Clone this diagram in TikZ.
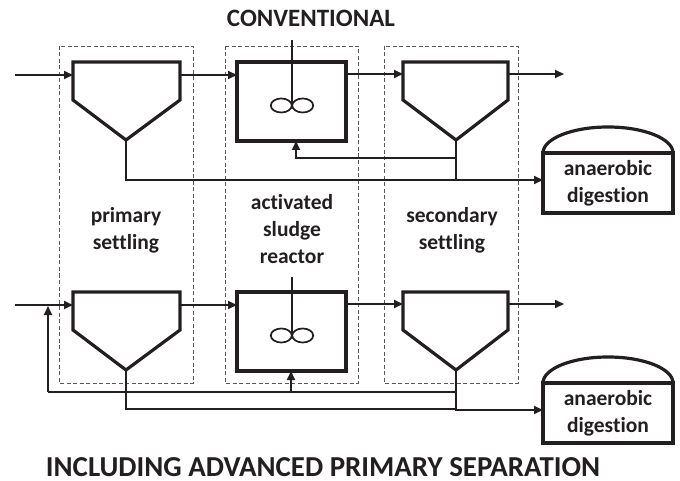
\documentclass[tikz,border=0pt]{standalone}
\usepackage{fontspec}
\setmainfont{Carlito}[Ligatures=NoCommon]
\usetikzlibrary{arrows.meta}
\definecolor{ink}{HTML}{231F20}
\begin{document}
\begin{tikzpicture}[x=1pt,y=-1pt,
  unitline/.style={draw=ink, line width=3.2pt, line join=miter},
  pipe/.style={draw=ink, line width=2pt},
  flow/.style={pipe, -{Triangle[length=9pt,width=8pt]}},
  zone/.style={draw=ink!75, line width=0.9pt, dash pattern=on 4pt off 2.5pt},
  lbl/.style={font=\fontsize{21.5}{27}\selectfont\bfseries, align=center, text=ink, inner sep=0pt},
  title/.style={font=\fontsize{25}{30}\selectfont\bfseries, text=ink, inner sep=0pt},
  impeller/.style={draw=ink, line width=1.7pt},
]
\useasboundingbox (0,0) rectangle (680,481);

% process zones
\draw[zone] (59,46) rectangle (193,383);
\draw[zone] (225,46) rectangle (358,383);
\draw[zone] (384,46) rectangle (518,383);

% titles and labels
\node[title] (tconv) at (311,18.5) {CONVENTIONAL};
\node[title, font=\fontsize{28.9}{34}\selectfont\bfseries] (tadv) at (323,467) {INCLUDING ADVANCED PRIMARY SEPARATION};
\node[lbl] (lprim) at (126,230) {primary\\settling};
\node[lbl] (lasr) at (292,229) {activated\\sludge\\reactor};
\node[lbl] (lsec) at (452,230) {secondary\\settling};

% ---------- units, both rows ----------
\foreach \rw/\dy in {a/0,b/230}{
  % primary settler
  \draw[unitline] (73,62+\dy) -- (180,62+\dy) -- (180,100+\dy) -- (126,140+\dy) -- (73,100+\dy) -- cycle;
  \coordinate (p\rw-in) at (73,75+\dy);
  \coordinate (p\rw-out) at (180,75+\dy);
  \coordinate (p\rw-apex) at (126,140+\dy);
  % reactor
  \draw[unitline] (237,62+\dy) rectangle (346,141+\dy);
  \coordinate (r\rw-in) at (237,75+\dy);
  \coordinate (r\rw-out) at (346,74+\dy);
  % secondary settler
  \draw[unitline] (403,62+\dy) -- (508,62+\dy) -- (508,100+\dy) -- (456,140+\dy) -- (403,100+\dy) -- cycle;
  \coordinate (s\rw-in) at (403,74+\dy);
  \coordinate (s\rw-out) at (508,74+\dy);
  \coordinate (s\rw-apex) at (456,140+\dy);
  \coordinate (e\rw) at (564,74+\dy);
  \coordinate (f\rw) at (15,75+\dy);
  % impeller
  \draw[impeller] (281.3,105.5+\dy) ellipse (10.5 and 7);
  \draw[impeller] (302.7,105.5+\dy) ellipse (10.5 and 7);
  % digester
  \draw[unitline] (543,153+\dy) rectangle (673,213+\dy);
  \draw[unitline] (543,153+\dy) arc[start angle=180, end angle=360, x radius=65, y radius=26];
  \node[lbl] (d\rw) at (608,183+\dy) {anaerobic\\digestion};
  \coordinate (d\rw-in) at (543,180+\dy);
  % main line
  \draw[flow] (f\rw) -- (p\rw-in);
  \draw[flow] (p\rw-out) -- (r\rw-in);
  \draw[flow] (r\rw-out) -- (s\rw-in);
  \draw[flow] (s\rw-out) -- (e\rw);
}
% shafts
\draw[pipe, line width=1.7pt] (292,40) -- (292,105);
\draw[pipe, line width=1.7pt] (292,277) -- (292,335);

% ---------- conventional sludge lines ----------
\draw[flow] (pa-apex) |- (da-in);
\draw[pipe] (sa-apex) -- (456,180);
\draw[flow] (456,158) -| (296,141);

% ---------- advanced primary sludge lines ----------
\draw[flow] (sb-apex) |- (db-in);
\draw[pipe] (pb-apex) |- (456,409);
\draw[pipe] (456,392) -- (48,392);
\draw[flow] (48,392) -- (48,306);
\draw[flow] (291,392) -- (291,371);
\end{tikzpicture}
\end{document}
